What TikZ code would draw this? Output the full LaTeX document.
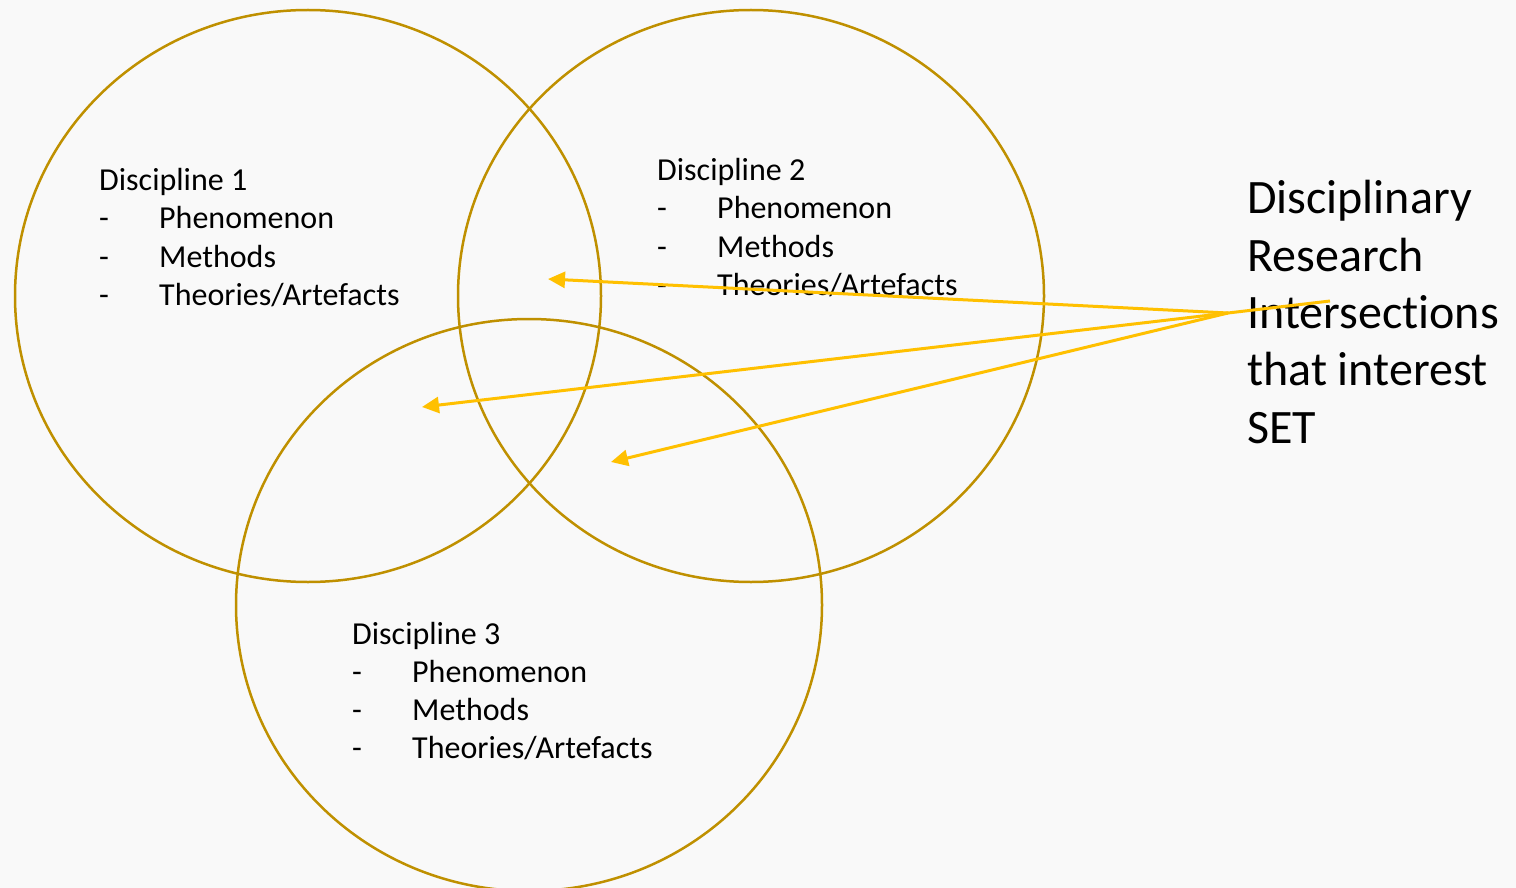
\documentclass[tikz,border=0pt]{standalone}
\usepackage{fontspec}
\setmainfont{Carlito}[Ligatures = {NoCommon}]
\usetikzlibrary{arrows.meta,positioning,shapes.geometric}
\definecolor{discgold}{HTML}{BF9000}
\definecolor{arrowgold}{HTML}{FFC000}
\definecolor{slide}{HTML}{F9F9F9}
\begin{document}
\begin{tikzpicture}[x=1pt, y=-1pt,
    disc/.style = {draw = discgold, line width = 2.5pt, ellipse, minimum width = 586pt, minimum height = 572pt, inner sep = 0pt},
    small/.style = {font = \fontsize{32}{38}\selectfont, anchor = base west, inner sep = 0pt},
    big/.style = {font = \fontsize{48}{57}\selectfont, anchor = base west, inner sep = 0pt},
    pointer/.style = {draw = arrowgold, line width = 3pt},
    tip/.style = {pointer, -{Triangle[length = 17pt, width = 16pt]}}]
                \clip (0,0) rectangle (1516,888);
                \fill[slide] (0,0) rectangle (1516,888);

                \node[disc] (1) at (308,296) {};
                \node[disc] (2) at (751,296) {};
                \node[disc] (3) at (529,605) {};

                \foreach \n/\x/\y in {1/99/190.5, 2/657/180.5, 3/352/644} {
                    \node[small] (title\n) at (\x,\y) {Discipline \n};
                    \foreach \entry [count = \i] in {Phenomenon, Methods, Theories/Artefacts} {
                        \node[small] (dash\n\i) at ({\x},{\y+38.3*\i}) {-};
                        \node[small] (entry\n\i) at ({\x+60},{\y+38.3*\i}) {\entry};
                    }
                }

                \foreach \line [count = \i] in {Disciplinary, Research, Intersections, that interest, SET}
                    \node[big] (set\i) at ({1247},{214+57.3*(\i-1)}) {\line};

                \coordinate (hub) at (1228,313);
                \coordinate (stem) at (1330,301);
                \coordinate (a) at (548,279);
                \coordinate (b) at (422,407);
                \coordinate (c) at (611,462);

                \draw[pointer] (stem) -- (hub);
                \draw[tip] (hub) -- (a);
                \draw[tip] (hub) -- (b);
                \draw[tip] (hub) -- (c);
\end{tikzpicture}
\end{document}
